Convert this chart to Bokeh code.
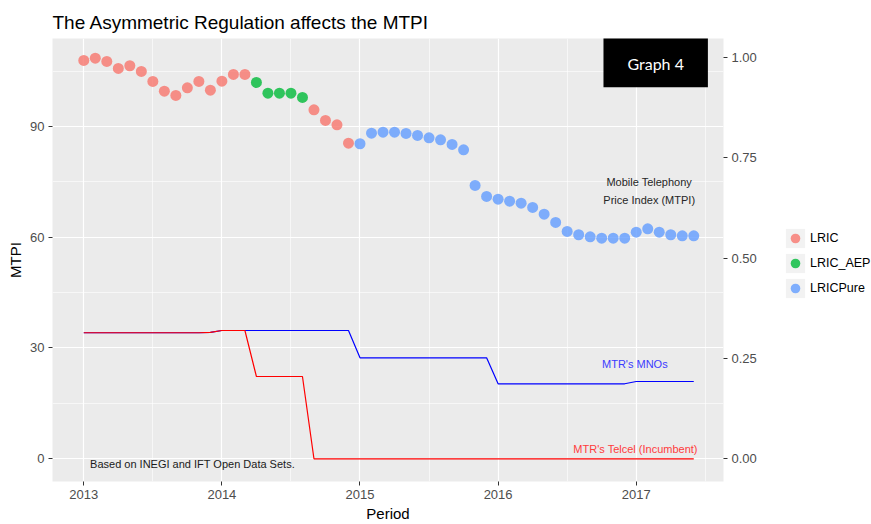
from bokeh.plotting import figure
from bokeh.layouts import row
from bokeh.models import (ColumnDataSource, Range1d, LinearAxis, FixedTicker, Legend,
                          LegendItem, Label, NumeralTickFormatter)
from bokeh.embed import file_html
from bokeh.resources import INLINE

# ---------------- data ----------------
years = [2013, 2014, 2015, 2016, 2017]
months_per_year = [12, 12, 12, 12, 6]

mtpi_2013 = [107.85, 108.48, 107.58, 105.69, 106.42, 104.87, 102.17, 99.54, 98.38, 100.46, 102.17, 99.81]
mtpi_2014 = [102.25, 104.06, 104.06, 101.90, 99.00, 99.00, 99.00, 97.83, 94.50, 91.61, 90.44, 85.46]
mtpi_2015 = [85.30, 88.17, 88.44, 88.44, 88.09, 87.54, 86.92, 86.38, 85.11, 83.67, 74.01, 71.03]
mtpi_2016 = [70.30, 69.75, 69.21, 68.05, 66.23, 63.99, 61.55, 60.66, 60.11, 59.73, 59.73, 59.73]
mtpi_2017 = [61.36, 62.28, 61.36, 60.66, 60.38, 60.38]

regime = (["LRIC"] * 15 + ["LRIC_AEP"] * 5 + ["LRIC"] * 4 + ["LRICPure"] * 30)

# mobile termination rates (right axis units)
mtr_mnos = ([0.3142] * 11 + [0.3150] + [0.3199] * 12 + [0.2518] * 12
            + [0.1870] * 12 + [0.1927] * 6)
mtr_telcel = ([0.3142] * 11 + [0.3150] + [0.3199] * 3 + [0.2052] * 5 + [0.0] * 34)

categories = ["LRIC", "LRIC_AEP", "LRICPure"]
cat_colors = ["#F8766D", "#00BA38", "#619CFF"]

x_ticks = [2013, 2014, 2015, 2016, 2017]
x_minor = [2012.5, 2013.5, 2014.5, 2015.5, 2016.5, 2017.5]
y_ticks = [0, 30, 60, 90]
y_minor = [-15, 15, 45, 75, 105]
y2_ticks = [0.0, 0.25, 0.5, 0.75, 1.0]

SEC_SCALE = 108.6  # left-axis units per right-axis unit

# ---------------- derived ----------------
period = []
for yr, n in zip(years, months_per_year):
    for m in range(n):
        period.append(yr + m / 12.0)
mtpi = mtpi_2013 + mtpi_2014 + mtpi_2015 + mtpi_2016 + mtpi_2017
mnos_plot = [v * SEC_SCALE for v in mtr_mnos]
telcel_plot = [v * SEC_SCALE for v in mtr_telcel]

FONT = "Liberation Sans"

x0, x1 = 2012.7735, 2017.632
y0, y1 = -6.15, 113.8

MAIN_W, LEG_W, H = 775, 96, 524

p = figure(width=MAIN_W, height=H, output_backend="svg", toolbar_location=None,
           x_range=Range1d(x0, x1), y_range=Range1d(y0, y1),
           min_border_left=52, min_border_right=52, min_border_top=38, min_border_bottom=43)

p.background_fill_color = "#EBEBEB"
p.border_fill_color = "white"
p.outline_line_color = None

p.title.text = "The Asymmetric Regulation affects the MTPI"
p.title.text_font = FONT
p.title.text_font_size = "19px"
p.title.text_font_style = "normal"
p.title.text_color = "black"
p.title.align = "left"
p.title.offset = 0
p.title.standoff = 12

p.xaxis.ticker = FixedTicker(ticks=x_ticks, minor_ticks=x_minor)
p.yaxis.ticker = FixedTicker(ticks=y_ticks, minor_ticks=y_minor)
p.xaxis.axis_label = "Period"
p.yaxis.axis_label = "MTPI"
p.xaxis.axis_label_standoff = 3
p.yaxis.axis_label_standoff = 3

p.extra_y_ranges = {"mtr": Range1d(y0 / SEC_SCALE, y1 / SEC_SCALE)}
ax2 = LinearAxis(y_range_name="mtr", ticker=FixedTicker(ticks=y2_ticks),
                 formatter=NumeralTickFormatter(format="0.00"))
p.add_layout(ax2, "right")

for ax in p.axis:
    ax.axis_line_color = None
    ax.major_tick_line_color = "#333333"
    ax.major_tick_in = 0
    ax.major_tick_out = 4
    ax.minor_tick_line_color = None
    ax.major_label_text_color = "#4D4D4D"
    ax.major_label_text_font = FONT
    ax.major_label_text_font_size = "13px"
    ax.major_label_standoff = 4
    ax.axis_label_text_font = FONT
    ax.axis_label_text_font_size = "15px"
    ax.axis_label_text_font_style = "normal"
    ax.axis_label_text_color = "black"

for g in (p.xgrid, p.ygrid):
    g.grid_line_color = "white"
    g.grid_line_width = 1.2
    g.minor_grid_line_color = "white"
    g.minor_grid_line_width = 0.6

# lines
p.line(period, mnos_plot, line_color="blue", line_width=1.2)
p.line(period, telcel_plot, line_color="red", line_width=1.2)

# points
cat_sources = {}
for cat, col in zip(categories, cat_colors):
    xs = [x for x, r in zip(period, regime) if r == cat]
    ys = [y for y, r in zip(mtpi, regime) if r == cat]
    cat_sources[cat] = dict(x=xs, y=ys)
    p.scatter("x", "y", source=ColumnDataSource(cat_sources[cat]), size=11,
              fill_color=col, fill_alpha=0.8, line_color=None)

# "Graph 4" box
p.quad(left=[2016.763], right=[2017.519], bottom=[100.6], top=[115.0],
       fill_color="black", line_color=None)
p.add_layout(Label(x=2017.141, y=107.1, text="Graph 4", text_font="Lato",
                   text_font_size="16px", text_color="white",
                   text_align="center", text_baseline="middle"))

def note(x, y, text, color, size="11px"):
    p.add_layout(Label(x=x, y=y, text=text, text_font=FONT, text_font_size=size,
                       text_color=color, text_align="center", text_baseline="middle"))

note(2017.094, 74.9, "Mobile Telephony", "#262626")
note(2017.094, 70.2, "Price Index (MTPI)", "#262626")
note(2016.99, 25.8, "MTR's MNOs", "#3B3BFF")
note(2016.995, 2.7, "MTR's Telcel (Incumbent)", "#FF3B3B")
note(2013.787, -1.35, "Based on INEGI and IFT Open Data Sets.", "#1A1A1A")

# ---------------- legend panel (separate narrow figure) ----------------
# its ranges are in pixels, so the proxy glyphs (real data values) fall outside and stay hidden
lg = figure(width=LEG_W, height=H, output_backend="svg", toolbar_location=None,
            x_range=Range1d(0, LEG_W), y_range=Range1d(0, H),
            x_axis_type=None, y_axis_type=None,
            min_border_left=0, min_border_right=0, min_border_top=0, min_border_bottom=0)
lg.outline_line_color = None
lg.background_fill_color = "white"
lg.border_fill_color = "white"
lg.xgrid.visible = False
lg.ygrid.visible = False

bg = lg.quad(left=period[:1], right=period[:1], top=mtpi[:1], bottom=mtpi[:1],
             fill_color="#F2F2F2", line_color=None)
items = []
for cat, col in zip(categories, cat_colors):
    r = lg.scatter("x", "y", source=ColumnDataSource(cat_sources[cat]), size=11,
                   fill_color=col, fill_alpha=0.8, line_color=None)
    items.append(LegendItem(label=cat, renderers=[bg, r]))
legend = Legend(items=items, location=(8, 181), padding=0, margin=0,
                border_line_color=None, background_fill_alpha=0,
                glyph_width=24, glyph_height=24, label_height=24, spacing=1,
                label_standoff=3, label_text_font=FONT, label_text_font_size="12.5px",
                label_text_color="black")
lg.add_layout(legend, "center")

layout = row(p, lg, spacing=0)
open("out.html", "w").write(file_html(layout, INLINE))
